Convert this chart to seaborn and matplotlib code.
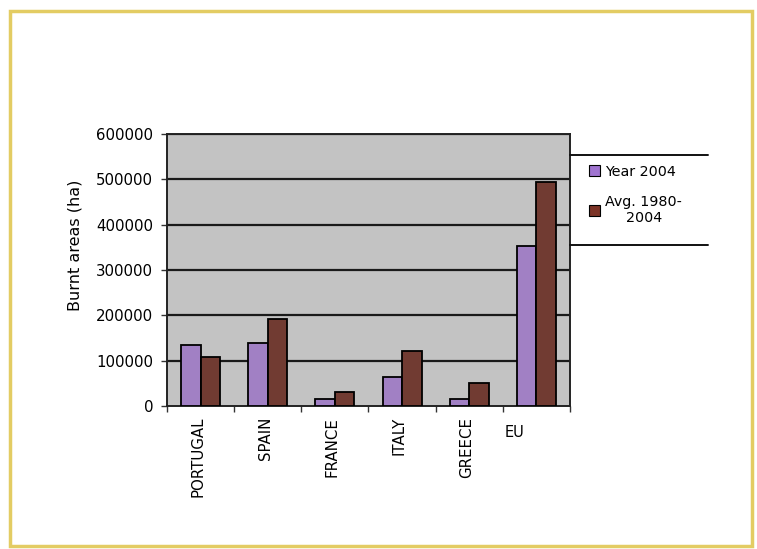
import numpy as np
import pandas as pd
import matplotlib
matplotlib.use("Agg")
import matplotlib.pyplot as plt
from matplotlib.lines import Line2D
from matplotlib.patches import Rectangle, Patch
import seaborn as sns

# Burnt areas (ha) in southern EU member states
countries = ["PORTUGAL", "SPAIN", "FRANCE", "ITALY", "GREECE", "EU"]
year_2004 = [135000, 140000, 15000, 63000, 14500, 352000]
avg_1980_2004 = [109000, 192000, 31500, 122000, 50000, 494000]
series_names = ["Year 2004", "Avg. 1980-\n2004"]
y_ticks = [0, 100000, 200000, 300000, 400000, 500000, 600000]

df = pd.DataFrame({
    "country": countries * 2,
    "series": [series_names[0]] * len(countries) + [series_names[1]] * len(countries),
    "area": year_2004 + avg_1980_2004,
})

sns.set_theme(style="white")
plt.rcParams["font.family"] = ["DejaVu Sans"]
plt.rcParams["text.color"] = "black"
plt.rcParams["axes.labelcolor"] = "black"
plt.rcParams["xtick.color"] = "black"
plt.rcParams["ytick.color"] = "black"

purple = "#a074d0"
brown = "#7c3427"

fig = plt.figure(figsize=(7.57, 5.49), dpi=100)
fig.patch.set_facecolor("white")
ax = fig.add_axes([167 / 757, 1 - 406 / 549, 403 / 757, 272 / 549])
ax.set_facecolor("#c3c3c3")

sns.barplot(data=df, x="country", y="area", hue="series",
            palette=[purple, brown], width=0.58, gap=0,
            edgecolor="black", linewidth=1.3, ax=ax, legend=False,
            zorder=3)

ax.set_ylim(0, 600000)
ax.set_xlim(-0.5, len(countries) - 0.5)
ax.set_yticks(y_ticks)
ax.set_yticklabels([str(v) for v in y_ticks], fontsize=10.8)
for v in y_ticks[1:]:
    ax.axhline(v, color="#1a1a1a", lw=1.6, zorder=2)

# category ticks sit on the boundaries between groups
ax.set_xticks(np.arange(-0.5, len(countries)))
ax.set_xticklabels([])
ax.tick_params(axis="x", direction="out", length=4, width=1, color="#333333", bottom=True)
ax.tick_params(axis="y", direction="out", length=4, width=1, color="#333333", left=True, pad=6)
for i, name in enumerate(countries):
    if name == "EU":
        ax.text(i - 0.33, -0.07, name, transform=ax.get_xaxis_transform(),
                ha="center", va="top", fontsize=10.5)
    else:
        ax.text(i - 0.04, -0.04, name, transform=ax.get_xaxis_transform(),
                ha="center", va="top", rotation=90, fontsize=10.8)

for s in ax.spines.values():
    s.set_color("#222222")
    s.set_linewidth(1.4)

ax.set_xlabel("")
ax.set_ylabel("Burnt areas (ha)", fontsize=11.5)
ax.yaxis.set_label_coords(-0.21, 0.592)

handles = [Patch(facecolor=purple, edgecolor="black", lw=0.8),
           Patch(facecolor=brown, edgecolor="black", lw=0.8)]
leg = fig.legend(handles, series_names, loc="upper left",
                 bbox_to_anchor=(576 / 757, 1 - 152 / 549), frameon=False,
                 fontsize=10.3, handlelength=0.8, handleheight=0.8,
                 handletextpad=0.35, labelspacing=1.1)
for t in leg.get_texts():
    t.set_multialignment("center")

# legend box rules
for yy in (155, 245):
    fig.add_artist(Line2D([570 / 757, 708 / 757], [1 - yy / 549, 1 - yy / 549],
                          color="#111111", lw=1.4))

# outer yellow frame
fig.add_artist(Rectangle((10 / 757, 1 - 546 / 549), 742 / 757, 535 / 549,
                         fill=False, edgecolor="#e3cc63", lw=2.5))

fig.savefig("out.png", dpi=100)
